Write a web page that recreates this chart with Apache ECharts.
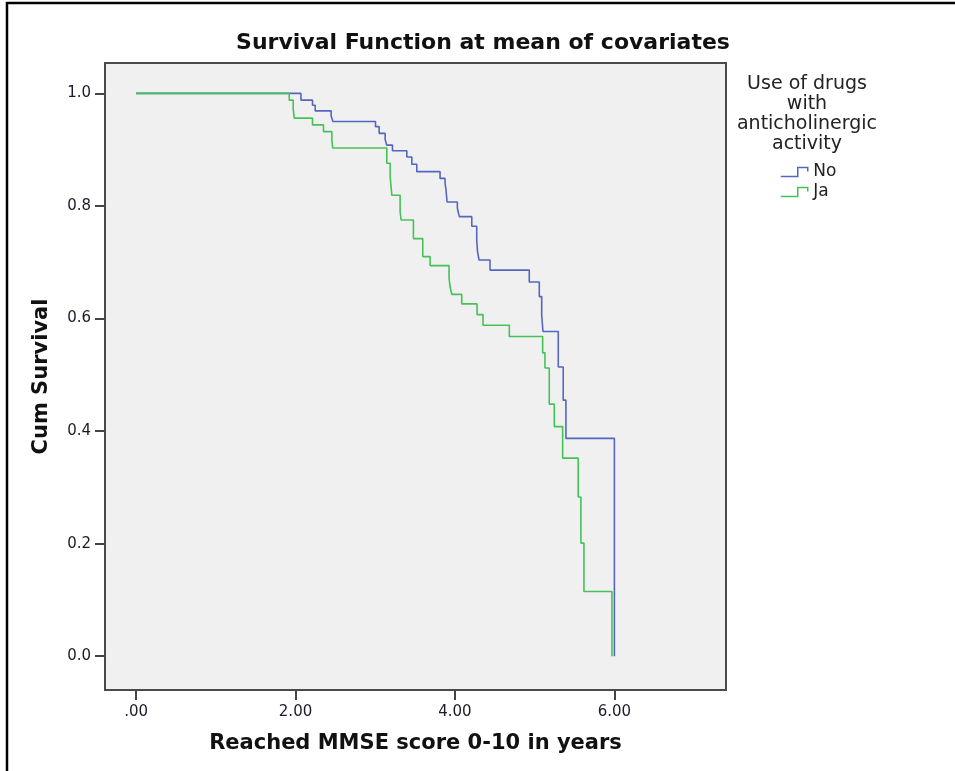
<!DOCTYPE html>
<html>
<head>
<meta charset="utf-8">
<script src="https://cdn.jsdelivr.net/npm/echarts@6/dist/echarts.min.js"></script>
<style>
  html, body { margin: 0; padding: 0; background: #fff; }
  #chart { width: 955px; height: 771px; }
</style>
</head>
<body>
<div id="chart"></div>
<script>
// 时间（年）和累计生存率
const noTimes = [0, 2.068, 2.213, 2.247, 2.447, 2.469, 3.003, 3.049, 3.124, 3.145, 3.216, 3.396, 3.459, 3.521,
  3.813, 3.876, 3.888, 3.901, 4.030, 4.055, 4.211, 4.273, 4.283, 4.302, 4.440, 4.932, 5.058, 5.088, 5.104,
  5.296, 5.358, 5.392, 6.0]
const noSurv = [1.0, 0.988, 0.979, 0.969, 0.960, 0.950, 0.941, 0.929, 0.918, 0.908, 0.898, 0.887, 0.874, 0.861,
  0.849, 0.840, 0.828, 0.807, 0.796, 0.781, 0.764, 0.739, 0.719, 0.704, 0.686, 0.665, 0.639, 0.606, 0.577,
  0.514, 0.455, 0.387, 0.0]

const jaTimes = [0, 1.921, 1.971, 1.984, 2.213, 2.351, 2.456, 2.466, 3.145, 3.187, 3.208, 3.312, 3.325, 3.479,
  3.596, 3.688, 3.926, 3.939, 3.960, 4.085, 4.277, 4.352, 4.682, 5.100, 5.129, 5.183, 5.246, 5.351, 5.546,
  5.580, 5.618, 5.969]
const jaSurv = [1.0, 0.988, 0.972, 0.956, 0.944, 0.932, 0.917, 0.903, 0.876, 0.852, 0.819, 0.790, 0.775, 0.742,
  0.710, 0.694, 0.672, 0.656, 0.643, 0.626, 0.607, 0.588, 0.568, 0.539, 0.512, 0.448, 0.408, 0.352, 0.283,
  0.201, 0.115, 0.0]

// 刻度
const xTicks = [0, 2, 4, 6]
const yTicks = [0, 0.2, 0.4, 0.6, 0.8, 1.0]

const BLUE = '#5467c0'
const GREEN = '#45c257'
const FONT = 'DejaVu Sans'

const myChart = echarts.init(document.getElementById('chart'))

const toPairs = (ts, vs) => ts.map((t, i) => [t, vs[i]])

const options = {
  animation: false,
  backgroundColor: '#fff',
  title: {
    text: 'Survival Function at mean of covariates',
    left: 478,
    top: 27,
    textAlign: 'center',
    textStyle: { fontFamily: FONT, fontSize: 22, fontWeight: 'bold', color: '#111' }
  },
  // 图例
  legend: {
    orient: 'vertical',
    left: 780,
    top: 162,
    padding: 0,
    itemGap: 0,
    itemWidth: 28,
    itemHeight: 9,
    icon: 'path://M0,9 L17,9 L17,0 L27,0 L27,4',
    textStyle: { fontFamily: FONT, fontSize: 17, color: '#222', lineHeight: 20 },
    data: [
      { name: 'No', itemStyle: { color: 'rgba(0,0,0,0)', borderColor: BLUE, borderWidth: 1.5 } },
      { name: 'Ja', itemStyle: { color: 'rgba(0,0,0,0)', borderColor: GREEN, borderWidth: 1.5 } }
    ]
  },
  grid: {
    left: 105,
    right: 229,
    top: 63,
    bottom: 81,
    show: true,
    backgroundColor: '#f0f0f0',
    borderColor: '#4a4a4a',
    borderWidth: 2
  },
  xAxis: {
    type: 'value',
    min: -0.39,
    max: 7.4,
    name: 'Reached MMSE score 0-10 in years',
    nameLocation: 'middle',
    nameGap: 43,
    nameTextStyle: { fontFamily: FONT, fontSize: 21, fontWeight: 'bold', color: '#111' },
    axisLine: { show: false, onZero: false },
    splitLine: { show: false },
    axisTick: { customValues: xTicks, length: 10, lineStyle: { color: '#444', width: 2 } },
    axisLabel: {
      customValues: xTicks,
      margin: 15,
      fontFamily: FONT,
      fontSize: 15,
      color: '#1a1a2a',
      formatter: (v) => (v === 0 ? '.00' : v.toFixed(2))
    }
  },
  yAxis: {
    type: 'value',
    min: -0.06,
    max: 1.054,
    name: 'Cum Survival',
    nameLocation: 'middle',
    nameGap: 53,
    nameTextStyle: { fontFamily: FONT, fontSize: 21, fontWeight: 'bold', color: '#111' },
    axisLine: { show: false, onZero: false },
    splitLine: { show: false },
    axisTick: { customValues: yTicks, length: 10, lineStyle: { color: '#444', width: 2 } },
    axisLabel: {
      customValues: yTicks,
      margin: 14,
      fontFamily: FONT,
      fontSize: 15,
      color: '#1a1a2a',
      formatter: (v) => v.toFixed(1)
    }
  },
  graphic: [
    // 外框
    {
      type: 'rect',
      shape: { x: 7, y: 3, width: 1000, height: 1000 },
      style: { fill: 'none', stroke: '#000', lineWidth: 2.5 },
      silent: true
    },
    // 图例标题
    {
      type: 'text',
      x: 807,
      y: 74,
      style: {
        text: 'Use of drugs\nwith\nanticholinergic\nactivity',
        fontFamily: FONT,
        fontSize: 19,
        lineHeight: 20,
        fill: '#222',
        align: 'center',
        verticalAlign: 'top'
      }
    }
  ],
  series: [
    {
      name: 'No',
      type: 'line',
      step: 'end',
      showSymbol: false,
      color: BLUE,
      lineStyle: { color: BLUE, width: 1.6 },
      data: toPairs(noTimes, noSurv)
    },
    {
      name: 'Ja',
      type: 'line',
      step: 'end',
      showSymbol: false,
      color: GREEN,
      lineStyle: { color: GREEN, width: 1.6 },
      data: toPairs(jaTimes, jaSurv)
    }
  ]
}
myChart.setOption(options)
</script>
</body>
</html>
